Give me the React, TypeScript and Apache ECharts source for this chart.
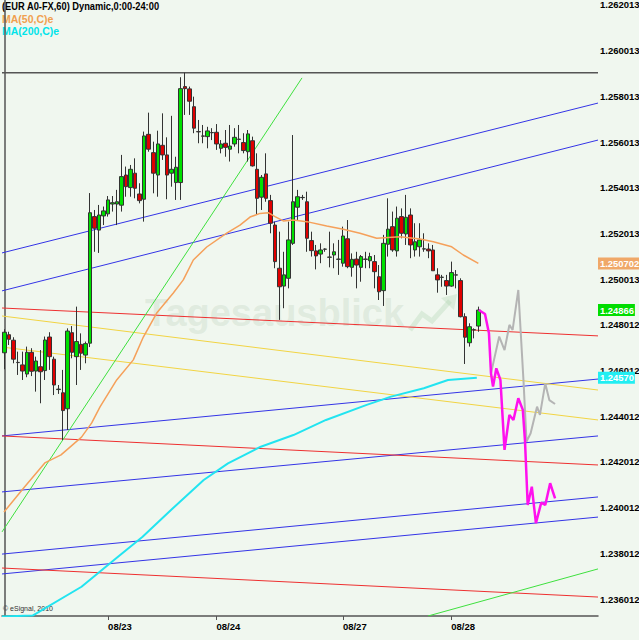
import React, { useEffect, useRef } from "react";
import * as echarts from "echarts";

// ---- axis texts ----
const tickLabels = ["1.236012", "1.238012", "1.240012", "1.242012", "1.244012", "1.246012", "1.248012", "1.250013", "1.252013", "1.254013", "1.256013", "1.258013", "1.260013", "1.262013"];
const dayLabels = ["08/23", "08/24", "08/27", "08/28"];
const dayStarts = [23, 47, 75, 99];
const slotCount = 132;
const yMin = 1.23527;
const yMax = 1.26223;

// ---- hourly candles: [open, close, low, high] ----
const candles = [
  [1.24679, 1.24769, 1.24607, 1.24782],
  [1.24758, 1.24738, 1.24713, 1.24771],
  [1.24734, 1.24651, 1.24633, 1.24747],
  [1.24636, 1.24637, 1.24582, 1.24684],
  [1.24626, 1.24599, 1.2456, 1.24684],
  [1.24586, 1.24681, 1.24572, 1.24706],
  [1.24681, 1.24598, 1.24577, 1.24699],
  [1.24599, 1.24643, 1.24509, 1.24662],
  [1.24618, 1.24596, 1.24458, 1.24691],
  [1.24601, 1.24735, 1.2456, 1.2475],
  [1.24748, 1.24662, 1.24604, 1.24769],
  [1.24651, 1.24538, 1.24494, 1.24662],
  [1.24518, 1.2452, 1.24499, 1.24538],
  [1.24504, 1.24426, 1.24297, 1.24604],
  [1.24434, 1.24774, 1.24341, 1.24786],
  [1.24767, 1.24681, 1.24655, 1.24796],
  [1.24662, 1.24728, 1.24538, 1.24881],
  [1.24716, 1.24677, 1.24604, 1.24764],
  [1.24669, 1.24719, 1.24633, 1.24728],
  [1.24721, 1.25292, 1.24704, 1.25378],
  [1.25275, 1.25224, 1.25121, 1.25304],
  [1.25216, 1.25282, 1.25116, 1.25326],
  [1.25278, 1.253, 1.25238, 1.25319],
  [1.25287, 1.25348, 1.25275, 1.25365],
  [1.2533, 1.25336, 1.25297, 1.25365],
  [1.2533, 1.2534, 1.25238, 1.25392],
  [1.25325, 1.2545, 1.25297, 1.25545],
  [1.25457, 1.25406, 1.25362, 1.25494],
  [1.25402, 1.25482, 1.25362, 1.25501],
  [1.25465, 1.25399, 1.25355, 1.2553],
  [1.25374, 1.25345, 1.25333, 1.25421],
  [1.25351, 1.25628, 1.25253, 1.25647],
  [1.25635, 1.2557, 1.25559, 1.2573],
  [1.25555, 1.25465, 1.25377, 1.25603],
  [1.25457, 1.25593, 1.25362, 1.25651],
  [1.25587, 1.25545, 1.25523, 1.25727],
  [1.25545, 1.25457, 1.25351, 1.25622],
  [1.25465, 1.25482, 1.25406, 1.25716],
  [1.25424, 1.25491, 1.25348, 1.25537],
  [1.25424, 1.25835, 1.25348, 1.25885],
  [1.25844, 1.25835, 1.2572, 1.25905],
  [1.25834, 1.2578, 1.2572, 1.25844],
  [1.25756, 1.25662, 1.2564, 1.258],
  [1.25647, 1.25646, 1.25596, 1.25698],
  [1.25628, 1.25627, 1.25596, 1.25676],
  [1.25625, 1.2565, 1.25574, 1.25668],
  [1.25642, 1.25643, 1.2561, 1.25662],
  [1.25644, 1.25593, 1.25567, 1.2568],
  [1.25574, 1.25593, 1.25552, 1.2561],
  [1.25596, 1.25578, 1.25537, 1.25654],
  [1.2557, 1.25584, 1.25516, 1.25676],
  [1.25593, 1.25622, 1.25581, 1.25662],
  [1.25613, 1.25614, 1.25552, 1.25676],
  [1.25599, 1.25564, 1.25552, 1.2564],
  [1.25559, 1.25637, 1.25516, 1.25654],
  [1.25607, 1.25497, 1.25494, 1.25625],
  [1.25482, 1.25355, 1.25282, 1.25552],
  [1.2536, 1.25447, 1.25304, 1.25457],
  [1.25462, 1.25355, 1.2534, 1.25552],
  [1.25345, 1.25246, 1.25202, 1.2537],
  [1.25238, 1.25078, 1.25049, 1.25253],
  [1.25049, 1.24968, 1.24823, 1.25209],
  [1.24971, 1.2502, 1.24874, 1.25121],
  [1.25005, 1.25173, 1.24961, 1.25253],
  [1.25158, 1.2534, 1.25151, 1.25632],
  [1.25316, 1.25362, 1.2526, 1.25392],
  [1.25358, 1.25359, 1.25348, 1.2537],
  [1.2534, 1.2518, 1.25121, 1.25384],
  [1.2517, 1.25126, 1.251, 1.25209],
  [1.25125, 1.25103, 1.25044, 1.25151],
  [1.25111, 1.25129, 1.25071, 1.25158],
  [1.25132, 1.25133, 1.25121, 1.25136],
  [1.25097, 1.25098, 1.25053, 1.25209],
  [1.25107, 1.25121, 1.25049, 1.25158],
  [1.25088, 1.25089, 1.2502, 1.25173],
  [1.25071, 1.2519, 1.25056, 1.25231],
  [1.25178, 1.25056, 1.25049, 1.2526],
  [1.25053, 1.25088, 1.25012, 1.25114],
  [1.25089, 1.25063, 1.24961, 1.25121],
  [1.25053, 1.251, 1.2499, 1.25107],
  [1.25088, 1.25089, 1.25049, 1.25121],
  [1.25082, 1.251, 1.25049, 1.25117],
  [1.25078, 1.25034, 1.24961, 1.25107],
  [1.25012, 1.24946, 1.2491, 1.25063],
  [1.24951, 1.25158, 1.24884, 1.25195],
  [1.25154, 1.2522, 1.251, 1.25355],
  [1.25231, 1.25129, 1.25121, 1.25297],
  [1.25125, 1.25268, 1.251, 1.25319],
  [1.25275, 1.25202, 1.2518, 1.25311],
  [1.25199, 1.25272, 1.25151, 1.2537],
  [1.25282, 1.25151, 1.25093, 1.25311],
  [1.25129, 1.25165, 1.251, 1.25246],
  [1.25143, 1.25173, 1.251, 1.25246],
  [1.25133, 1.25134, 1.25121, 1.25202],
  [1.25133, 1.25125, 1.25093, 1.25158],
  [1.25129, 1.25038, 1.25038, 1.25151],
  [1.2502, 1.24998, 1.24942, 1.25049],
  [1.25009, 1.2501, 1.24968, 1.2502],
  [1.24995, 1.24971, 1.24932, 1.2502],
  [1.24971, 1.2503, 1.24968, 1.25078],
  [1.2502, 1.25019, 1.24961, 1.25041],
  [1.24995, 1.24837, 1.24834, 1.25005],
  [1.24837, 1.24747, 1.2463, 1.24852],
  [1.24723, 1.24793, 1.24706, 1.24808],
  [1.24779, 1.2478, 1.24742, 1.24786],
  [1.24796, 1.24866, 1.24771, 1.24881],
];

// ---- moving averages: [hour index, price] ----
const ma50 = [
  [-0.06, 1.23982], [4.48, 1.24092], [8.98, 1.24197], [12.57, 1.24232], [17.11, 1.2431],
  [19.37, 1.24372], [21.21, 1.24442], [24.9, 1.2456], [28.58, 1.24648], [30.8, 1.24748],
  [33.76, 1.24853], [37.44, 1.24941], [39.65, 1.24998], [41.87, 1.25085], [44.84, 1.25142],
  [49.27, 1.25203], [52.21, 1.25238], [54.43, 1.25273], [56.64, 1.25289], [58.48, 1.25292],
  [59.96, 1.25275], [61.8, 1.25256], [64.02, 1.2526], [66.99, 1.25253], [71.42, 1.25234],
  [75.09, 1.2522], [78.79, 1.25202], [82.49, 1.2518], [87.65, 1.25187], [92.08, 1.25177],
  [95.03, 1.25165], [99.1, 1.25143], [101.67, 1.25107], [105.0, 1.250702],
];
const ma200 = [
  [-0.5, 1.23525], [6.28, 1.23529], [17.11, 1.23655], [24.31, 1.23772], [30.64, 1.23874],
  [36.93, 1.23991], [44.17, 1.24122], [49.55, 1.24195], [56.82, 1.24268], [64.04, 1.24319],
  [71.26, 1.24385], [80.27, 1.24451], [85.66, 1.24487], [92.92, 1.24524], [98.28, 1.2456],
  [104.66, 1.2457],
];

// ---- projections ----
const projMain = [
  [105.1, 1.24866], [106.47, 1.24849], [107.35, 1.24764], [107.8, 1.24589], [108.25, 1.24531],
  [108.98, 1.24611], [109.89, 1.2456], [110.8, 1.24254], [111.88, 1.24407], [112.77, 1.24385],
  [113.85, 1.2448], [114.85, 1.24429], [115.32, 1.24297], [115.93, 1.24013], [116.84, 1.24093],
  [117.75, 1.23933], [118.93, 1.24023], [119.82, 1.24013], [120.9, 1.24108], [121.99, 1.24042],
];
const projAlt = [
  [107.8, 1.24589], [109.62, 1.2475], [110.8, 1.24691], [111.88, 1.24801], [112.59, 1.24779],
  [113.85, 1.24954], [115.03, 1.24545], [115.67, 1.2429], [116.58, 1.24327], [118.0, 1.24443],
  [118.64, 1.24407], [119.82, 1.24545], [120.72, 1.24472], [121.99, 1.24455],
];

// ---- trend lines (start / end) ----
const blueLines = [
  [[-0.5, 1.25116], [131.5, 1.25772]],
  [[-0.5, 1.2495], [131.5, 1.2561]],
  [[-0.5, 1.24315], [131.5, 1.24564]],
  [[-0.5, 1.2407], [131.5, 1.24315]],
  [[-0.5, 1.23798], [131.5, 1.24048]],
  [[-0.5, 1.23711], [131.5, 1.2396]],
];
const redLines = [
  [[-0.5, 1.24875], [131.5, 1.24753]],
  [[-0.5, 1.24315], [131.5, 1.24188]],
  [[-0.5, 1.23737], [131.5, 1.2361]],
];
const yellowLines = [
  [[-0.5, 1.2484], [131.5, 1.24516]],
  [[-0.5, 1.24704], [131.5, 1.24385]],
];
const greenLines = [
  [[-0.5, 1.23895], [65.94, 1.25882]],
  [[93.85, 1.23527], [131.5, 1.23733]],
];
const highLine = [[-0.5, 1.25905], [131.5, 1.25905]];

// ---- price tags ----
const tagValues = [1.250702, 1.24866, 1.2457];
const tagTexts = ["1.250702", "1.24866", "1.24570"];

export default function App() {
  const ref = useRef<HTMLDivElement>(null);
  useEffect(() => {
    const chart = echarts.init(ref.current as HTMLDivElement, null, { renderer: "svg" });
    const font = "'Liberation Sans',Arial,sans-serif";
    const categories = Array.from({ length: slotCount }, (_, i) => String(i));
    const isDay = (i: number) => dayStarts.indexOf(i) >= 0;
    const line = (data: number[][], color: string, width: number, z: number, extra: any = {}) => ({
      type: "line",
      xAxisIndex: 1,
      yAxisIndex: 0,
      data,
      symbol: "none",
      showSymbol: false,
      silent: true,
      clip: true,
      z,
      lineStyle: { color, width },
      ...extra,
    });
    const tag = (i: number, bg: string) => ({
      silent: true,
      symbol: "none",
      precision: 6,
      lineStyle: { color: "rgba(0,0,0,0)", width: 0, type: "solid" },
      data: [{ yAxis: tagValues[i] }],
      label: {
        show: true,
        position: "end",
        distance: 0,
        formatter: tagTexts[i],
        backgroundColor: bg,
        color: "#ffffff",
        fontFamily: font,
        fontWeight: "bold",
        fontSize: 9.4,
        padding: [2, 1, 1, 2],
      },
    });

    const series: any[] = [];
    blueLines.forEach((d) => series.push(line(d, "#3434e6", 1, 1)));
    redLines.forEach((d) => series.push(line(d, "#ee3030", 1, 1)));
    yellowLines.forEach((d) => series.push(line(d, "#f2d443", 1, 1)));
    greenLines.forEach((d) => series.push(line(d, "#3ee03e", 1, 1)));
    series.push(line(highLine, "#555555", 1.5, 1));
    series.push({
      type: "candlestick",
      xAxisIndex: 0,
      yAxisIndex: 0,
      data: candles,
      barWidth: 4,
      silent: true,
      z: 3,
      itemStyle: {
        color: "#00e000",
        color0: "#e00000",
        borderColor: "#333333",
        borderColor0: "#333333",
        borderWidth: 1,
      },
      markLine: tag(1, "#00dd00"),
    });
    series.push(line(ma50, "#f5a05a", 1.5, 4, { markLine: tag(0, "#f0a868") }));
    series.push(line(ma200, "#22e4f0", 2, 4, { markLine: tag(2, "#22eef2") }));
    series.push(line(projAlt, "#b4b4b4", 2, 5));
    series.push(line(projMain, "#ff10ee", 2.5, 6));

    chart.setOption({
      animation: false,
      backgroundColor: "#f0f7ef",
      grid: { left: 2, right: 41, top: 0, bottom: 24, containLabel: false, outerBoundsMode: "none" },
      xAxis: [
        {
          type: "category",
          data: categories,
          boundaryGap: true,
          axisLine: { lineStyle: { color: "#555555", width: 1.5 } },
          axisTick: { show: true, alignWithLabel: true, length: 4, interval: (i: number) => isDay(i), lineStyle: { color: "#555555" } },
          axisLabel: {
            interval: (i: number) => isDay(i),
            formatter: (_v: string, i: number) => (isDay(i) ? dayLabels[dayStarts.indexOf(i)] : ""),
            align: "left",
            margin: 5,
            color: "#000000",
            fontFamily: font,
            fontWeight: "bold",
            fontSize: 9.5,
          },
          splitLine: { show: false },
        },
        { type: "value", min: -0.5, max: slotCount - 0.5, show: false },
      ],
      yAxis: {
        type: "value",
        position: "right",
        min: yMin,
        max: yMax,
        scale: true,
        axisLine: { show: true, lineStyle: { color: "#555555", width: 1.5 } },
        axisTick: { show: false },
        splitLine: { show: false },
        axisLabel: {
          customValues: tickLabels.map(Number),
          formatter: (v: number) => v.toFixed(6),
          margin: 2,
          color: "#000000",
          fontFamily: font,
          fontWeight: "bold",
          fontSize: 9.5,
        },
      },
      graphic: [
        {
          type: "text",
          left: 145,
          top: 294,
          z: 0,
          silent: true,
          style: { text: "Tagesausblick", fill: "rgba(185,205,185,0.3)", font: "bold 38px 'Liberation Sans', Arial, sans-serif" },
        },
        {
          type: "polyline",
          z: 0,
          silent: true,
          shape: { points: [[410, 330], [422, 314], [432, 321], [450, 301]] },
          style: { stroke: "rgba(170,210,170,0.3)", lineWidth: 5, fill: "none" },
        },
        {
          type: "polygon",
          z: 0,
          silent: true,
          shape: { points: [[441, 298], [457, 294], [454, 310]] },
          style: { fill: "rgba(170,210,170,0.3)" },
        },
        {
          type: "text",
          left: 2,
          top: 1,
          scaleX: 0.93,
          style: { text: "(EUR A0-FX,60) Dynamic,0:00-24:00", fill: "#000000", font: `bold 10px ${font}` },
        },
        {
          type: "text",
          left: 2,
          top: 13,
          style: { text: "MA(50,C)e", fill: "#f0a050", font: `bold 10.5px ${font}` },
        },
        {
          type: "text",
          left: 2,
          top: 25,
          style: { text: "MA(200,C)e", fill: "#00e4ea", font: `bold 10.5px ${font}` },
        },
        {
          type: "text",
          left: 3,
          top: 605,
          style: { text: "© eSignal, 2010", fill: "#333333", font: `7px ${font}` },
        },
      ],
      series,
    });
    return () => chart.dispose();
  }, []);
  return <div ref={ref} style={{ position: "fixed", left: 0, top: 0, width: 639, height: 640 }} />;
}
